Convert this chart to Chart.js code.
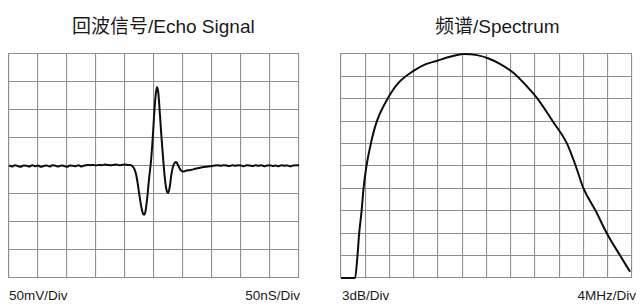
<!DOCTYPE html>
<html>
<head>
<meta charset="utf-8">
<script src="https://cdn.jsdelivr.net/npm/chart.js@4.4.1/dist/chart.umd.min.js"></script>
<style>
  html, body { margin: 0; padding: 0; background: #fff; }
  body { width: 643px; height: 307px; position: relative; overflow: hidden;
         font-family: "Liberation Sans", Arial, "Noto Sans CJK SC", sans-serif; color: #111; }
  .box { position: absolute; }
  .title { position: absolute; top: 11px; font-size: 19px; white-space: nowrap;
           font-family: "Liberation Sans", Arial, "Noto Sans CJK SC", sans-serif; color: #1a1a1a; }
  .lab { position: absolute; top: 288px; font-size: 13.5px; white-space: nowrap; color: #1a1a1a; }
</style>
</head>
<body>
<div class="title" id="t1" style="left:72px;">回波信号/Echo Signal</div>
<div class="title" id="t2" style="left:435px;">频谱/Spectrum</div>
<div class="lab" style="left:9px;">50mV/Div</div>
<div class="lab" style="right:343px;">50nS/Div</div>
<div class="lab" style="left:342px;">3dB/Div</div>
<div class="lab" style="right:7px;">4MHz/Div</div>

<div class="box" style="left:0px;top:44px;width:308px;height:244px;"><canvas id="c1"></canvas></div>
<div class="box" style="left:320px;top:44px;width:323px;height:244px;"><canvas id="c2"></canvas></div>

<script>
// Echo signal: time in divisions (50nS/Div), amplitude in divisions (50mV/Div)
const echoTime = [
  0.0,0.1,0.2,0.3,0.4,0.5,0.6,0.7,0.8,0.9,1.0,1.1,1.2,1.3,1.4,1.5,1.6,1.7,1.8,1.9,
  2.0,2.1,2.2,2.3,2.4,2.5,2.6,2.7,2.8,2.9,3.0,3.1,3.2,3.3,3.4,3.5,3.6,3.7,3.8,3.9,
  4.0,4.1,4.2,
  4.27,4.32,4.37,4.42,4.47,4.52,4.57,4.62,4.66,4.71,4.77,4.83,4.89,4.95,5.00,5.05,5.10,
  5.15,5.20,5.26,5.32,5.37,5.43,5.49,5.55,5.60,5.66,5.72,5.76,5.82,5.88,5.95,6.01,6.10,
  6.20,6.36,6.50,6.60,6.80,
  7.0,7.1,7.2,7.3,7.4,7.5,7.6,7.7,7.8,7.9,8.0,8.1,8.2,8.3,8.4,8.5,8.6,8.7,8.8,8.9,
  9.0,9.1,9.2,9.3,9.4,9.5,9.6,9.7,9.8,9.9,10.0
];
const echoVolt = [
  0.02,-0.02,0.03,0.0,-0.03,0.02,0.01,-0.02,0.03,-0.01,0.02,-0.03,0.0,0.02,-0.02,0.03,0.01,-0.02,0.02,0.0,
  -0.03,0.02,0.01,-0.01,0.03,-0.02,0.02,0.04,0.03,0.04,0.02,0.04,0.03,0.05,0.04,0.03,0.04,0.05,0.03,0.04,
  0.05,0.04,0.03,
  -0.02,-0.10,-0.25,-0.50,-0.85,-1.20,-1.50,-1.70,-1.74,-1.60,-1.10,-0.45,0.10,0.90,1.75,2.45,2.82,
  2.60,1.90,1.00,0.20,-0.40,-0.85,-0.96,-0.70,-0.30,0.00,0.12,0.14,0.05,-0.08,-0.18,-0.20,-0.17,
  -0.15,-0.12,-0.08,-0.06,-0.03,
  0.0,0.02,0.03,0.01,0.03,0.02,0.0,0.03,0.01,0.03,0.02,-0.01,0.03,0.02,0.0,0.03,0.01,0.03,-0.01,0.02,
  0.03,0.0,0.02,-0.01,0.03,0.01,0.02,-0.01,0.02,0.03,0.02
];

// Spectrum: frequency in divisions (4MHz/Div), level in divisions (3dB/Div)
const specFreq = [0,0.58,0.68,0.75,0.85,0.93,1.05,1.23,1.48,1.92,2.36,2.99,3.5,3.97,4.37,4.7,5.06,5.61,6.09,6.57,7.12,7.67,8.11,8.73,9.32,9.68,10.0,10.5,10.96,11.51,11.92];
const specLevel = [0,0,1,2,3,4,5,6,7,8,8.7,9.25,9.55,9.7,9.84,9.93,10.0,9.95,9.8,9.55,9.15,8.55,8.0,7.0,6.0,5.0,4.0,3.0,2.0,1.0,0.28];

const xDivsEcho = 10, yDivsEcho = 4;
const xDivsSpec = 12, yDivsSpec = 10;

function pts(xs, ys) { return xs.map((x, i) => ({ x: x, y: ys[i] })); }

const gridColor = '#8e8e8e';
function axis(min, max) {
  return {
    type: 'linear', min: min, max: max, display: true,
    ticks: { display: false, stepSize: 1 },
    grid: { color: gridColor, lineWidth: 1.1, drawTicks: false },
    border: { display: true, color: gridColor, width: 1.1 }
  };
}
function makeChart(id, data, xmin, xmax, ymin, ymax, pad) {
  return new Chart(document.getElementById(id), {
    type: 'line',
    data: { datasets: [{ data: data, borderColor: '#0d0d0d', borderWidth: 2, pointRadius: 0,
                          fill: false, tension: 0, cubicInterpolationMode: 'monotone', clip: 4 }] },
    options: {
      responsive: true, maintainAspectRatio: false, animation: false,
      layout: { padding: pad },
      plugins: { legend: { display: false }, tooltip: { enabled: false }, title: { display: false } },
      scales: { x: axis(xmin, xmax), y: axis(ymin, ymax) }
    }
  });
}
makeChart('c1', pts(echoTime, echoVolt), 0, xDivsEcho, -yDivsEcho, yDivsEcho, { left: 9, right: 9, top: 10, bottom: 10 });
makeChart('c2', pts(specFreq, specLevel), 0, xDivsSpec, 0, yDivsSpec, { left: 21, right: 11, top: 10, bottom: 10 });
</script>
</body>
</html>
